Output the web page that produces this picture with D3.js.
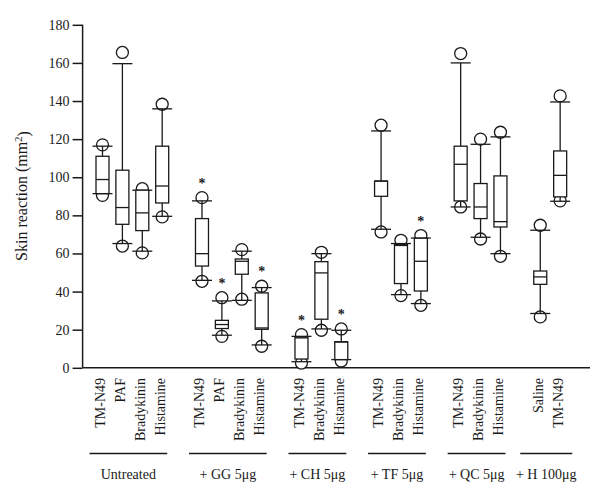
<!DOCTYPE html>
<html>
<head>
<meta charset="utf-8">
<script src="https://cdn.jsdelivr.net/npm/d3@7"></script>
<style>
  html, body { margin: 0; padding: 0; background: #fff; }
  svg { display: block; font-family: "Liberation Serif", "Times New Roman", serif; }
</style>
</head>
<body>
<svg id="chart" width="600" height="493"></svg>
<script>
// ---- data ----
const groupNames = ["Untreated", "+ GG 5\u03bcg", "+ CH 5\u03bcg", "+ TF 5\u03bcg", "+ QC 5\u03bcg", "+ H 100\u03bcg"];
const boxLabels = ["TM-N49", "PAF", "Bradykinin", "Histamine",
                   "TM-N49", "PAF", "Bradykinin", "Histamine",
                   "TM-N49", "Bradykinin", "Histamine",
                   "TM-N49", "Bradykinin", "Histamine",
                   "TM-N49", "Bradykinin", "Histamine",
                   "Saline", "TM-N49"];
const boxGroup = [0,0,0,0, 1,1,1,1, 2,2,2, 3,3,3, 4,4,4, 5,5];
const boxSlot  = [0,1,2,3, 5,6,7,8, 10,11,12, 14,15,16, 18,19,20, 22,23];
const whiskerLow  = [91.4, 65.2, 61.2, 79.5, 45.9, 17.1, 35.4, 12.0, 3.2, 20.4, 4.3, 72.7, 38.4, 33.7, 84.4, 68.5, 59.9, 28.5, 87.4];
const q1          = [91.4, 75.3, 72.0, 86.5, 53.4, 20.6, 49.1, 20.2, 4.6, 25.5, 4.3, 90.0, 44.2, 40.3, 87.6, 78.3, 73.9, 43.8, 89.7];
const median      = [98.8, 84.1, 81.3, 95.4, 59.9, 22.7, 55.9, 20.9, 15.7, 49.8, 13.5, 98.0, 64.2, 55.9, 106.8, 84.4, 76.7, 47.7, 101.0];
const q3          = [111.0, 103.7, 93.2, 116.3, 78.3, 24.9, 57.1, 39.3, 16.2, 55.7, 13.7, 98.0, 64.8, 68.0, 116.3, 96.7, 100.7, 50.8, 113.8];
const whiskerHigh = [116.3, 159.6, 93.2, 135.9, 87.6, 35.1, 61.2, 42.1, 16.5, 59.9, 19.7, 124.3, 65.2, 68.1, 160.0, 117.3, 121.2, 72.2, 139.5];
const pointLow    = [90.5, 63.9, 60.3, 79.2, 45.4, 16.5, 36.0, 11.3, 2.5, 19.7, 3.6, 71.3, 37.9, 32.8, 84.4, 67.6, 58.5, 26.7, 87.6];
const pointHigh   = [117.0, 165.5, 94.0, 138.3, 89.3, 36.8, 62.0, 42.8, 17.4, 60.6, 20.4, 127.3, 66.9, 69.4, 164.9, 120.0, 123.6, 74.8, 142.7];
const significant = [false,false,false,false, true,true,false,true, true,false,true, false,false,true, false,false,false, false,false];
const yTicks = [0, 20, 40, 60, 80, 100, 120, 140, 160, 180];
const yTitle = "Skin reaction (mm";

// ---- layout ----
const svg = d3.select("#chart");
const x = d3.scaleLinear().domain([-1, 24.5]).range([82.6, 590]);
const y = d3.scaleLinear().domain([0, 180]).range([367.8, 24.8]);
const boxW = 13, capW = 20, r = 6;
const ink = "#1a1a1a";

const boxes = boxLabels.map((lab, i) => ({
  lab, g: boxGroup[i], s: boxSlot[i],
  wl: whiskerLow[i], q1: q1[i], md: median[i], q3: q3[i], wh: whiskerHigh[i],
  pl: pointLow[i], ph: pointHigh[i], sig: significant[i]
}));

// axes
const yAxis = d3.axisLeft(y).tickValues(yTicks).tickSize(10).tickPadding(3);
const gy = svg.append("g").attr("transform", `translate(${x(-1)},0)`).call(yAxis);
gy.select(".domain").attr("stroke", ink).attr("stroke-width", 1.5).attr("d", `M0,${y(0)}V${y(180)}`);
gy.selectAll(".tick line").attr("stroke", ink).attr("stroke-width", 1.5);
gy.selectAll(".tick text").attr("fill", ink).style("font-size", "14px").style("font-family", "Liberation Serif");

svg.append("line").attr("x1", x(-1)).attr("x2", x(24.5)).attr("y1", y(0)).attr("y2", y(0))
  .attr("stroke", ink).attr("stroke-width", 1.5);

// y title
const yt = svg.append("text").attr("transform", `translate(27,196) rotate(-90)`)
  .attr("text-anchor", "middle").attr("fill", ink).style("font-size", "16px");
yt.append("tspan").text(yTitle);
yt.append("tspan").attr("dy", "-0.45em").style("font-size", "11px").text("2");
yt.append("tspan").attr("dy", "0.45em").text(")");

// box plots
const bg = svg.append("g").attr("stroke", ink).attr("stroke-width", 1.3);
boxes.forEach(b => {
  const cx = x(b.s);
  // points
  [b.pl, b.ph].forEach(v => {
    bg.append("circle").attr("cx", cx).attr("cy", y(v)).attr("r", r).attr("fill", "#fff");
  });
  // whiskers
  bg.append("line").attr("x1", cx).attr("x2", cx).attr("y1", y(b.q3)).attr("y2", y(b.wh));
  bg.append("line").attr("x1", cx).attr("x2", cx).attr("y1", y(b.q1)).attr("y2", y(b.wl));
  [b.wl, b.wh].forEach(v => {
    bg.append("line").attr("x1", cx - capW / 2).attr("x2", cx + capW / 2).attr("y1", y(v)).attr("y2", y(v));
  });
  // box
  bg.append("rect").attr("x", cx - boxW / 2).attr("width", boxW)
    .attr("y", y(b.q3)).attr("height", Math.max(0.5, y(b.q1) - y(b.q3))).attr("fill", "#fff");
  bg.append("line").attr("x1", cx - boxW / 2).attr("x2", cx + boxW / 2).attr("y1", y(b.md)).attr("y2", y(b.md));
  // significance
  if (b.sig) {
    svg.append("text").attr("x", cx).attr("y", y(b.ph) - 10).attr("text-anchor", "middle")
      .attr("fill", ink).style("font-size", "14px").style("font-weight", "bold").text("*");
  }
  // category label
  svg.append("text").attr("transform", `translate(${cx - 2.5},378) rotate(-90)`)
    .attr("text-anchor", "end").attr("dy", "0.35em").attr("fill", ink)
    .style("font-size", "14px").text(b.lab);
});

// group labels and underlines
groupNames.forEach((name, gi) => {
  const members = boxes.filter(b => b.g === gi);
  const xs = members.map(b => x(b.s));
  const c = d3.mean(xs) - 4;
  const half = Math.max((d3.max(xs) - d3.min(xs)) / 2 + 9, 26);
  svg.append("line").attr("x1", c - half).attr("x2", c + half).attr("y1", 453.5).attr("y2", 453.5)
    .attr("stroke", ink).attr("stroke-width", 1.3);
  svg.append("text").attr("x", c).attr("y", 479).attr("text-anchor", "middle")
    .attr("fill", ink).style("font-size", "14px").text(name);
});
</script>
</body>
</html>
